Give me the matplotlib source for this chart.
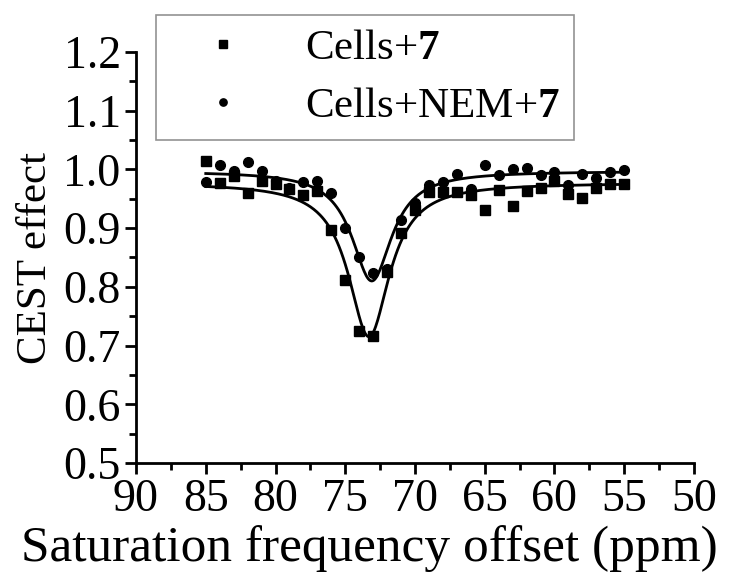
import matplotlib
matplotlib.use("Agg")
import matplotlib.pyplot as plt
import numpy as np
from matplotlib.ticker import MultipleLocator

plt.rcParams['font.family'] = ['Liberation Serif', 'DejaVu Serif']
plt.rcParams['mathtext.fontset'] = 'custom'
plt.rcParams['mathtext.rm'] = 'Liberation Serif'
plt.rcParams['mathtext.bf'] = 'Liberation Serif:bold'

# saturation offsets (ppm)
ppm = [85, 84, 83, 82, 81, 80, 79, 78, 77, 76, 75, 74, 73, 72, 71, 70,
       69, 68, 67, 66, 65, 64, 63, 62, 61, 60, 59, 58, 57, 56, 55]

# Cells+7 (squares)
cells = [1.015, 0.977, 0.989, 0.960, 0.981, 0.976, 0.966, 0.957, 0.963, 0.896,
         0.811, 0.724, 0.716, 0.826, 0.891, 0.931, 0.962, 0.962, 0.962, 0.956,
         0.931, 0.965, 0.938, 0.964, 0.968, 0.981, 0.959, 0.951, 0.968, 0.975, 0.975]

# Cells+NEM+7 (circles)
cells_nem = [0.979, 1.008, 0.998, 1.012, 0.997, 0.980, 0.968, 0.979, 0.981, 0.960,
             0.900, 0.851, 0.823, 0.830, 0.914, 0.943, 0.974, 0.979, 0.993, 0.966,
             1.008, 0.991, 1.000, 1.002, 0.991, 0.996, 0.974, 0.993, 0.985, 0.995, 0.999]

# lorentzian fit parameters: baseline, amplitude, centre, half width
fit_cells = (0.977, 0.262, 73.3, 1.8)
fit_nem = (0.997, 0.187, 73.1, 1.75)


def lorentz(x, y0, a, x0, hw):
    return y0 - a / (1 + ((x - x0) / hw) ** 2)


fig = plt.figure(figsize=(7.32, 5.72), dpi=100)
ax = fig.add_axes([136/732, 1-463/572, (694-136)/732, (463-52)/572])

xf = np.linspace(85, 55, 400)
ax.plot(xf, lorentz(xf, *fit_cells), color='black', lw=2)
ax.plot(xf, lorentz(xf, *fit_nem), color='black', lw=2)
ax.plot(ppm, cells, 's', color='black', ms=7, label='Cells+$\\mathbf{7}$')
ax.plot(ppm, cells_nem, 'o', color='black', ms=7, label='Cells+NEM+$\\mathbf{7}$')

ax.set_xlim(90, 50)
ax.set_ylim(0.5, 1.2)
ax.xaxis.set_major_locator(MultipleLocator(5))
ax.xaxis.set_minor_locator(MultipleLocator(2.5))
ax.yaxis.set_major_locator(MultipleLocator(0.1))
ax.yaxis.set_minor_locator(MultipleLocator(0.05))
ax.set_yticklabels([f'{v:.1f}' for v in ax.get_yticks()])

for s in ['top', 'right']:
    ax.spines[s].set_visible(False)
for s in ['left', 'bottom']:
    ax.spines[s].set_linewidth(2)
ax.tick_params(which='major', direction='out', length=8, width=2, labelsize=33, pad=3)
ax.tick_params(which='minor', direction='out', length=5, width=2)

ax.set_xlabel('Saturation frequency offset (ppm)', fontsize=37)
ax.xaxis.set_label_coords(0.419, -0.152)
ax.set_ylabel('CEST effect', fontsize=31, labelpad=6)

leg = ax.legend(loc='upper left', bbox_to_anchor=(156/732, 1-15/572),
                bbox_transform=fig.transFigure, fontsize=31, frameon=True,
                fancybox=False, edgecolor='#777777', markerscale=0.75,
                handlelength=2.45, handletextpad=0.7, borderpad=0.32,
                labelspacing=0.45, borderaxespad=0)
leg.get_frame().set_linewidth(1.2)
leg.set_zorder(0)

fig.savefig('out.png', dpi=100)
